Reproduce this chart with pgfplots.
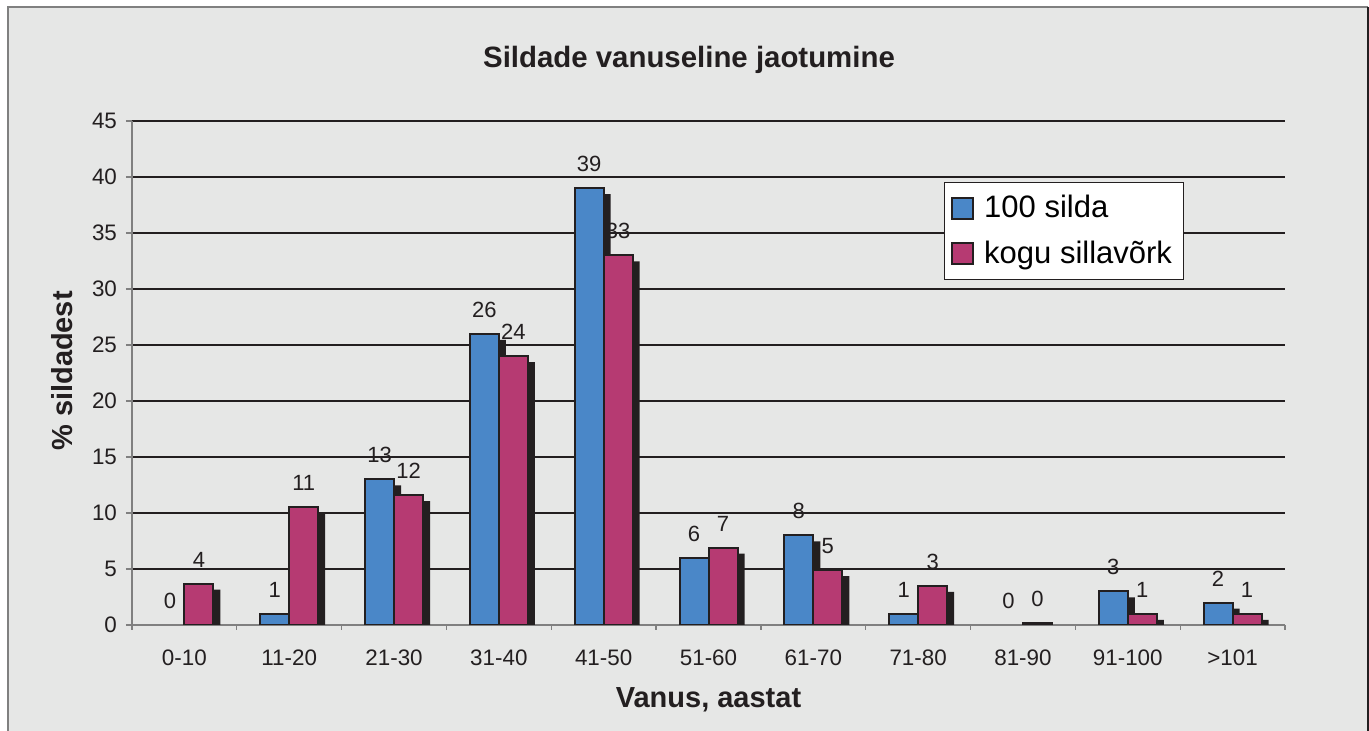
\documentclass[border=0pt]{standalone}
\usepackage{fontspec}
\setmainfont{Liberation Sans}
\usepackage{pgfplots}
\pgfplotsset{compat=1.18}
\usepackage{pgfplotstable}

\definecolor{bgray}{HTML}{E6E7E6}
\definecolor{cblue}{HTML}{4A87C8}
\definecolor{cmag}{HTML}{B63A72}
\definecolor{dark}{HTML}{231F20}
\definecolor{axgray}{HTML}{808080}

% age class, 100 bridges (value, label), whole network (value, label)
\pgfplotstableread{
x blue bl mag ml
0 0 0 3.7 4
1 1 1 10.5 11
2 13 13 11.6 12
3 26 26 24 24
4 39 39 33 33
5 6 6 6.9 7
6 8 8 4.9 5
7 1 1 3.5 3
8 0 0 0.2 0
9 3 3 1 1
10 2 2 1 1
}\agedata

\pgfplotsset{
  sqlegend/.style={legend image code/.code={\draw[##1] (0pt,-5.25pt) rectangle (10.5pt,5.25pt);}},
}

\begin{document}
\begin{tikzpicture}
\useasboundingbox (-66pt,-53pt) rectangle (618.5pt,312.5pt);
\fill[bgray] (-62pt,-53pt) rectangle (618pt,309pt);
\draw[axgray, line width=0.8pt] (-62pt,-53pt) -- (-62pt,309pt) -- (618pt,309pt);
\draw[dark, line width=0.8pt] (618pt,309pt) -- (618pt,-53pt);
\begin{axis}[scale only axis, width=576.5pt, height=252pt,
  ybar, bar width=14.5pt,
  xmin=-0.5, xmax=10.5, ymin=0, ymax=45, enlargelimits=false,
  axis x line*=bottom, axis y line*=left,
  axis line style={axgray, line width=0.8pt},
  xtick={0,...,10},
  xticklabels={0-10,11-20,21-30,31-40,41-50,51-60,61-70,71-80,81-90,91-100,>101},
  major x tick style={draw=none},
  minor xtick={-0.5,0.5,...,10.5},
  minor x tick style={axgray, line width=0.6pt},
  ytick={0,5,...,45},
  ytick style={axgray, line width=0.6pt},
  tick align=outside, major tick length=3pt, minor tick length=2.5pt,
  ymajorgrids, grid style={dark, line width=0.6pt},
  tick label style={font=\fontsize{11.2}{13}\selectfont, text=dark},
  /pgf/number format/assume math mode=true,
  xticklabel style={yshift=-6pt},
  yticklabel style={xshift=-1pt},
  xlabel={Vanus, aastat}, ylabel={\% sildadest},
  label style={font=\fontsize{14.5}{17}\selectfont\bfseries, text=dark},
  xlabel style={at={(axis description cs:0.5,-0.149)}, anchor=center},
  ylabel style={at={(axis description cs:-0.0607,0.504)}, anchor=center},
  legend style={at={(axis description cs:0.704,0.879)}, anchor=north west,
    fill=white, draw=dark, line width=0.5pt, font=\fontsize{15.5}{18}\selectfont,
    inner xsep=3.5pt, inner ysep=4.5pt, row sep=6pt, column sep=3pt},
  legend cell align=left,
  every node near coord/.append style={font=\fontsize{11}{13}\selectfont, inner sep=0pt, yshift=8pt, text=dark},
]
% shadows
\addplot[bar shift=-4.25pt, bar width=15.5pt, fill=dark, draw=none, yshift=-3pt, forget plot,
  restrict y to domain=0.05:50] table[x=x, y=blue]{\agedata};
\addplot[bar shift=10.25pt, bar width=15.5pt, fill=dark, draw=none, yshift=-3pt, forget plot,
  restrict y to domain=0.05:50] table[x=x, y=mag]{\agedata};
% bars
\addplot[bar shift=-7.25pt, fill=cblue, draw=dark, line width=1pt, sqlegend,
  restrict y to domain=0.05:50] table[x=x, y=blue]{\agedata};
\addlegendentry{100 silda}
\addplot[bar shift=7.25pt, fill=cmag, draw=dark, line width=1pt, sqlegend,
  restrict y to domain=0.05:50] table[x=x, y=mag]{\agedata};
\addlegendentry{kogu sillavõrk}
% value labels
\addplot[bar shift=-7.25pt, draw=none, fill=none, forget plot, nodes near coords,
  point meta=explicit symbolic] table[x=x, y=blue, meta=bl]{\agedata};
\addplot[bar shift=7.25pt, draw=none, fill=none, forget plot, nodes near coords,
  point meta=explicit symbolic] table[x=x, y=mag, meta=ml]{\agedata};
\end{axis}
\node[font=\fontsize{14.7}{17}\selectfont\bfseries, text=dark] at (278.5pt,282.5pt) {Sildade vanuseline jaotumine};
\end{tikzpicture}
\end{document}
